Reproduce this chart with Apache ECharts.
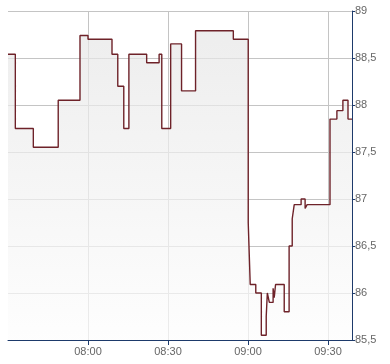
<!DOCTYPE html>
<html>
<head>
<meta charset="utf-8">
<script src="https://cdn.jsdelivr.net/npm/echarts@6/dist/echarts.min.js"></script>
<style>
html,body{margin:0;padding:0;background:#fff;}
#chart{width:390px;height:364px;}
</style>
</head>
<body>
<div id="chart"></div>
<script>
// Times (HH:MM:SS) at which the price changes, and the price from then on
var times = ['07:30:00','07:32:45','07:39:30','07:48:50','07:57:00','08:00:00','08:09:00','08:11:10','08:13:25','08:15:20',
             '08:22:00','08:26:40','08:27:40','08:31:00','08:35:05','08:40:20','08:54:30','09:00:05','09:00:50','09:02:55',
             '09:05:00','09:06:50','09:07:15','09:08:00','09:09:25','09:09:50','09:10:20','09:13:35','09:15:25','09:16:35',
             '09:17:20','09:19:55','09:21:25','09:22:10','09:30:45','09:33:20','09:35:35','09:37:30','09:39:00'];
var prices = [88.54,87.75,87.55,88.05,88.74,88.70,88.54,88.20,87.75,88.54,
              88.45,88.54,87.75,88.65,88.15,88.79,88.70,86.75,86.09,86.00,
              85.55,85.75,86.00,85.90,86.05,85.95,86.09,85.80,86.50,86.79,
              86.94,87.00,86.90,86.94,87.85,87.94,88.05,87.85,87.85];
var xTickLabels = ['08:00','08:30','09:00','09:30'];
var yTickLabels = ['85,5','86','86,5','87','87,5','88','88,5','89'];

function toMin(t){var p=t.split(':');return (+p[0])*60+(+p[1])+(p[2]?(+p[2])/60:0);}
function fmtMin(m){var h=Math.floor(m/60),mm=Math.round(m-h*60);return (h<10?'0':'')+h+':'+(mm<10?'0':'')+mm;}

var data = times.map(function(t,i){return [toMin(t), prices[i]];});
var xCustom = xTickLabels.map(toMin);

var chart = echarts.init(document.getElementById('chart'), null, {renderer:'canvas'});
var axisColor = '#1d3a6b';
var gridColor = '#c4c4c4';
var labelColor = '#666666';
var font = '"Liberation Sans", Arial, sans-serif';

chart.setOption({
  animation:false,
  backgroundColor:'#ffffff',
  grid:{left:8, right:38, top:11, bottom:24, containLabel:false},
  xAxis:{
    type:'value',
    min:450, max:579, interval:30,
    axisLine:{show:true, onZero:false, lineStyle:{color:axisColor, width:1}},
    axisTick:{show:true, length:5, customValues:xCustom, lineStyle:{color:axisColor}},
    axisLabel:{customValues:xCustom, formatter:function(v){return fmtMin(v);}, color:labelColor, fontFamily:font, fontSize:11, margin:6},
    splitLine:{show:true, lineStyle:{color:gridColor, width:1}}
  },
  yAxis:{
    type:'value',
    position:'right',
    min:85.5, max:89, interval:0.5,
    axisLine:{show:true, onZero:false, lineStyle:{color:axisColor, width:1}},
    axisTick:{show:true, length:3, lineStyle:{color:axisColor}},
    axisLabel:{formatter:function(v){
        var i = Math.round((v-85.5)/0.5); return yTickLabels[i];
      }, color:labelColor, fontFamily:font, fontSize:11, margin:3},
    splitLine:{show:true, lineStyle:{color:gridColor, width:1}}
  },
  series:[{
    type:'line',
    step:'end',
    data:data,
    symbol:'none',
    lineStyle:{color:'#6e2229', width:1.4},
    areaStyle:{
      origin:'start',
      color:new echarts.graphic.LinearGradient(0,0,0,1,[
        {offset:0, color:'#e6e6e6'},
        {offset:1, color:'#fdfdfd'}
      ])
    }
  }]
});
</script>
</body>
</html>
